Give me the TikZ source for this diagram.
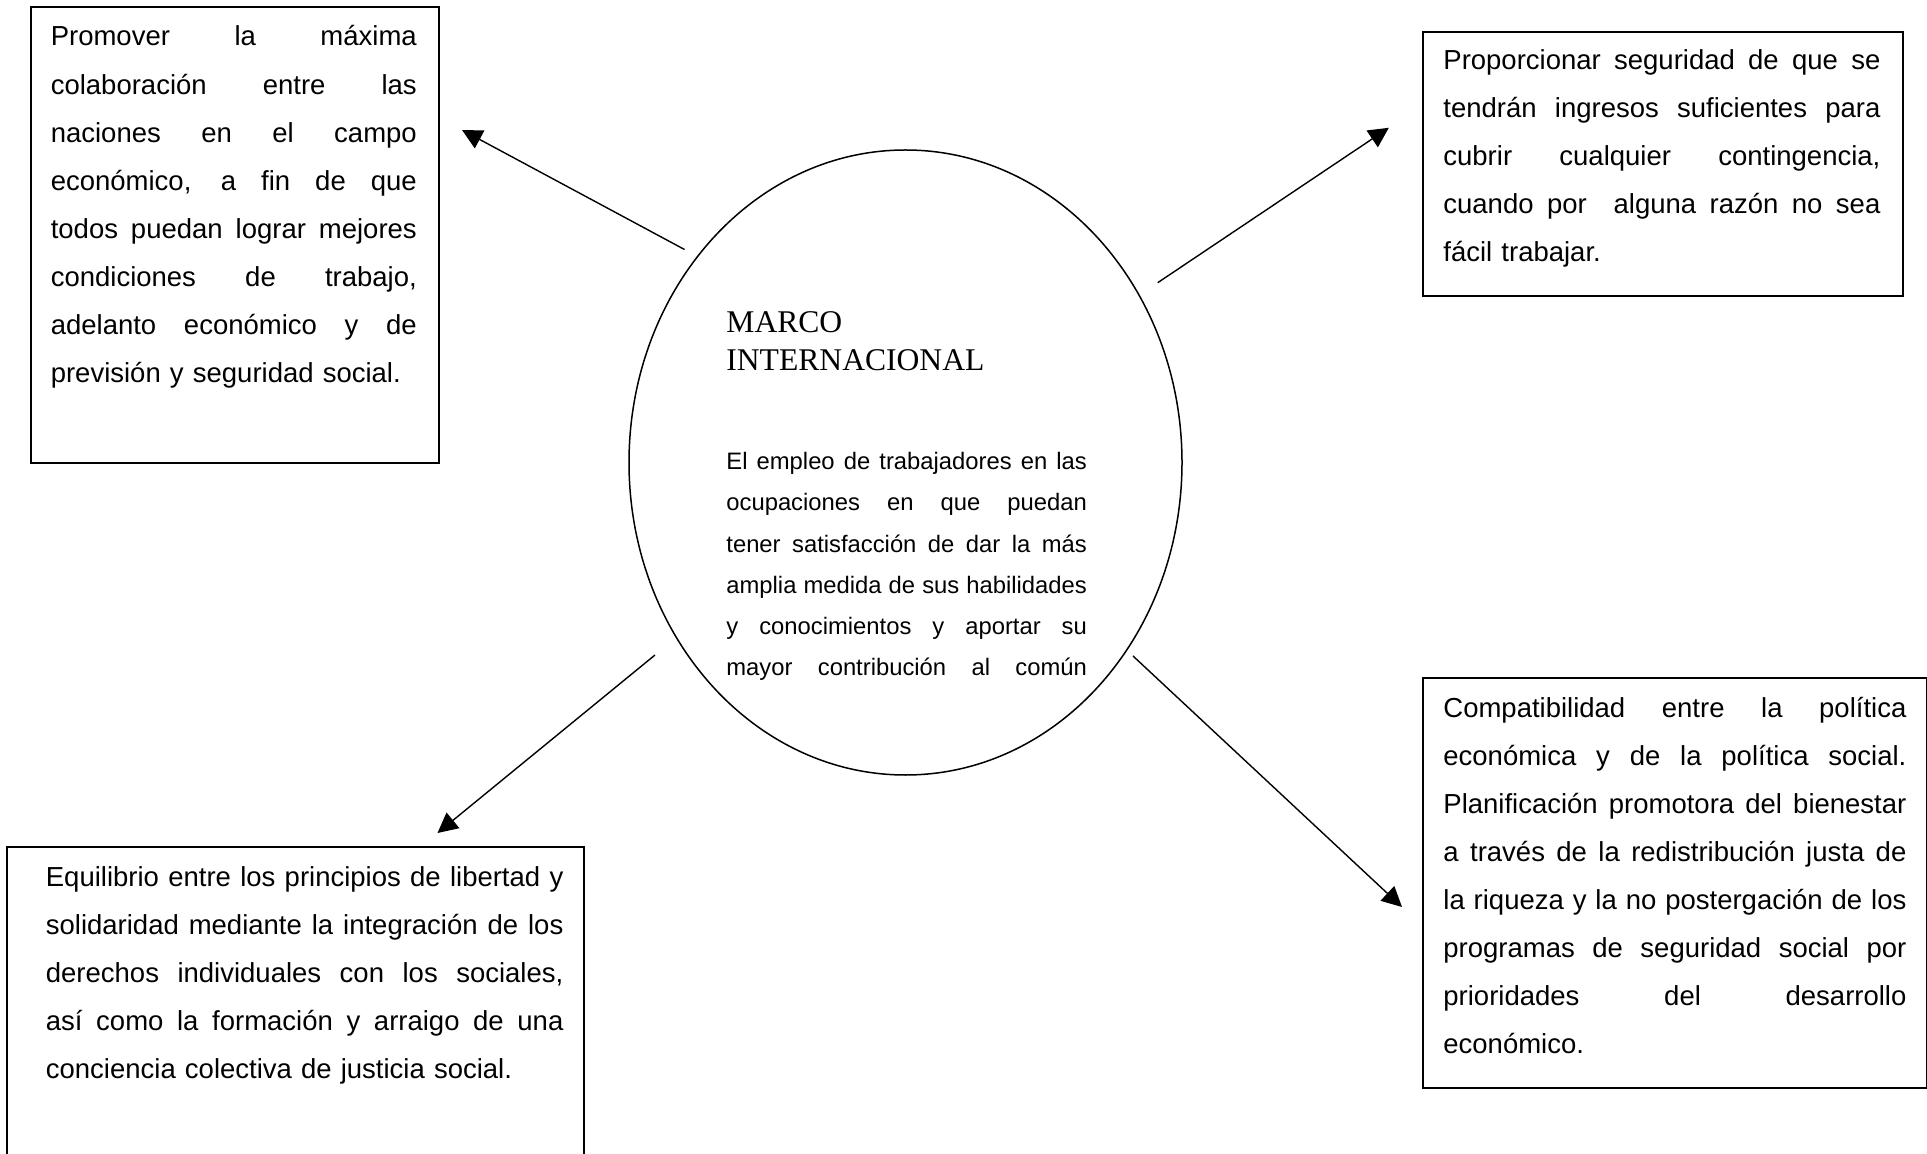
\documentclass[tikz,border=0pt]{standalone}
\usepackage{fontspec}
\setmainfont{Liberation Sans}
\newfontfamily\titlefont{Liberation Serif}
\usetikzlibrary{arrows.meta,shapes.geometric}
% one fully justified line of width \jw: the spaces share the extra room
\newcommand\jw{100pt}
\newcommand\jbox[1]{\hbox to \jw{\spaceskip=\fontdimen2\font plus 1fil\relax #1}}
\newcommand\jline[1]{\jbox{#1}}

\begin{document}
\begin{tikzpicture}[x=0.5pt,y=-0.5pt,
  frame/.style={draw, line width=1pt, rectangle, inner sep=0pt, anchor=north west},
  boxtext/.style={anchor=base west, inner sep=0pt, font=\fontsize{13.75}{24.04}\selectfont},
  circtext/.style={anchor=base west, inner sep=0pt, font=\fontsize{11.9}{20.65}\selectfont},
  titletext/.style={anchor=base west, inner sep=0pt, font=\titlefont\fontsize{15.8}{19}\selectfont},
  link/.style={-{Triangle[length=10pt,width=10pt]}, line width=0.7pt}]

% page
\fill[white] (0,0) rectangle (1927,1154);
\useasboundingbox (0,0) rectangle (1927,1154);

% central ellipse
\node[draw, ellipse, line width=0.75pt, inner sep=0pt,
      minimum width=276.5pt, minimum height=312.5pt] (centre) at (905.5,462.5) {};
\node[titletext, text width=140pt] (title) at (726,333) {MARCO\\INTERNACIONAL};
\node[circtext, text width=180.25pt] (centretext) at (726,469.5) {%
  \renewcommand\jw{180.25pt}%
  \jline{El empleo de trabajadores en las}
  \jline{ocupaciones en que puedan}
  \jline{tener satisfacción de dar la más}
  \jline{amplia medida de sus habilidades}
  \jline{y conocimientos y aportar su}
  \jline{mayor contribución al común}};

% top left box
\node[frame, minimum width=204pt, minimum height=227.75pt] (tlbox) at (29.5,6.5) {};
\node[boxtext, text width=183pt] (tltext) at (50.4,46) {%
  \renewcommand\jw{183pt}%
  \jline{Promover la máxima}
  \jline{colaboración entre las}
  \jline{naciones en el campo}
  \jline{económico, a fin de que}
  \jline{todos puedan lograr mejores}
  \jline{condiciones de trabajo,}
  \jline{adelanto económico y de}
  \noindent previsión y seguridad social.};

% top right box
\node[frame, minimum width=240pt, minimum height=132pt] (trbox) at (1422,31) {};
\node[boxtext, text width=218.5pt] (trtext) at (1443,69.5) {%
  \renewcommand\jw{218.5pt}%
  \jline{Proporcionar seguridad de que se}
  \jline{tendrán ingresos suficientes para}
  \jline{cubrir cualquier contingencia,}
  \jline{cuando por \ alguna razón no sea}
  \noindent fácil trabajar.};

% bottom left box
\node[frame, minimum width=288.25pt, minimum height=165pt] (blbox) at (6,845.5) {};
\node[boxtext, text width=258.75pt] (bltext) at (45.5,886) {%
  \renewcommand\jw{258.75pt}%
  \jline{Equilibrio entre los principios de libertad y}
  \jline{solidaridad mediante la integración de los}
  \jline{derechos individuales con los sociales,}
  \jline{así como la formación y arraigo de una}
  \noindent conciencia colectiva de justicia social.};

% bottom right box
\node[frame, minimum width=252pt, minimum height=205pt] (brbox) at (1422,677) {};
\node[boxtext, text width=231.5pt] (brtext) at (1443,717) {%
  \renewcommand\jw{231.5pt}%
  \jline{Compatibilidad entre la política}
  \jline{económica y de la política social.}
  \jline{Planificación promotora del bienestar}
  \jline{a través de la redistribución justa de}
  \jline{la riqueza y la no postergación de los}
  \jline{programas de seguridad social por}
  \jline{prioridades del desarrollo}
  \noindent económico.};

% connector ends
\coordinate (tlfrom) at (684.5,249.5);
\coordinate (tlto)   at (462,130);
\coordinate (trfrom) at (1157.7,282.7);
\coordinate (trto)   at (1388.8,127.8);
\coordinate (blfrom) at (655,655);
\coordinate (blto)   at (437.5,833);
\coordinate (brfrom) at (1133,656);
\coordinate (brto)   at (1402,907);

\draw[link] (tlfrom) -- (tlto);
\draw[link] (trfrom) -- (trto);
\draw[link] (blfrom) -- (blto);
\draw[link] (brfrom) -- (brto);
\end{tikzpicture}
\end{document}
